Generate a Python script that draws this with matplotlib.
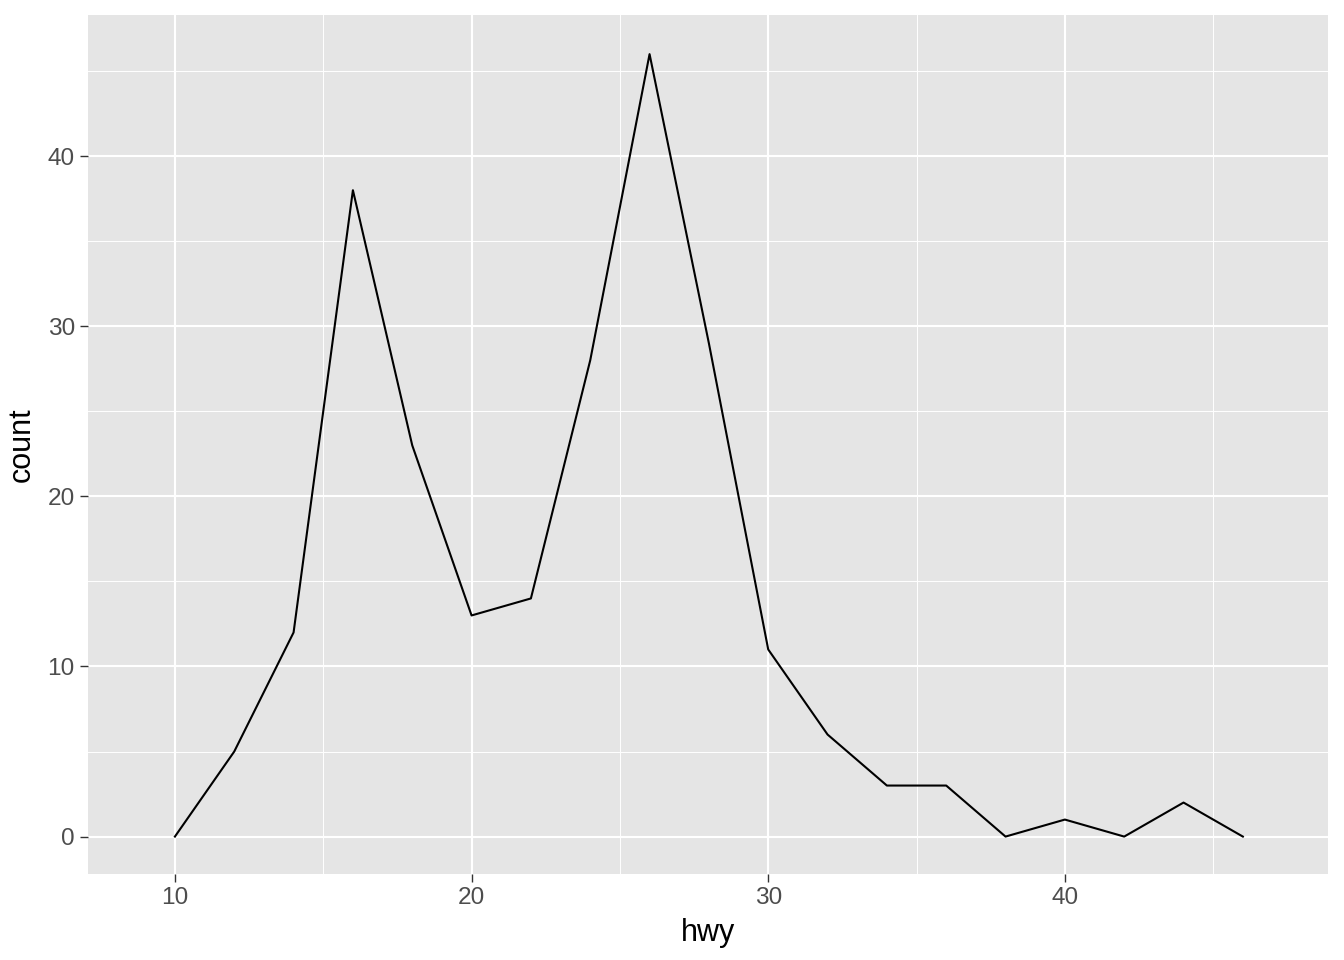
import numpy as np
import matplotlib.pyplot as plt

# frequency polygon of hwy (binwidth 2)
hwy = [10, 12, 14, 16, 18, 20, 22, 24, 26, 28, 30, 32, 34, 36, 38, 40, 42, 44, 46]
count = [0, 5, 12, 38, 23, 13, 14, 28, 46, 29, 11, 6, 3, 3, 0, 1, 0, 2, 0]

x_ticks = [10, 20, 30, 40]
y_ticks = [0, 10, 20, 30, 40]

plt.rcParams['font.family'] = ['Liberation Sans', 'DejaVu Sans']

fig = plt.figure(figsize=(6.72, 4.8), dpi=200)
ax = fig.add_axes([88 / 1344, 1 - 874 / 960, (1328 - 88) / 1344, (874 - 15) / 960])
ax.set_facecolor('#e5e5e5')

ax.plot(hwy, count, color='black', linewidth=0.75, zorder=3)

ax.set_xlim(7.07, 48.87)
ax.set_ylim(-2.2, 48.3)
ax.set_xticks(x_ticks)
ax.set_yticks(y_ticks)
ax.set_xticks([15, 25, 35, 45], minor=True)
ax.set_yticks([5, 15, 25, 35, 45], minor=True)

ax.grid(which='major', color='white', linewidth=0.75)
ax.grid(which='minor', color='white', linewidth=0.35)
ax.set_axisbelow(True)
for s in ax.spines.values():
    s.set_visible(False)

ax.tick_params(which='major', length=2.75, width=0.5, color='#333333',
               labelsize=8.8, labelcolor='#4d4d4d', pad=2)
ax.tick_params(which='minor', length=0)

ax.set_xlabel('hwy', fontsize=11, labelpad=3)
ax.set_ylabel('count', fontsize=11, labelpad=4)

fig.savefig('out.png', dpi=200)
